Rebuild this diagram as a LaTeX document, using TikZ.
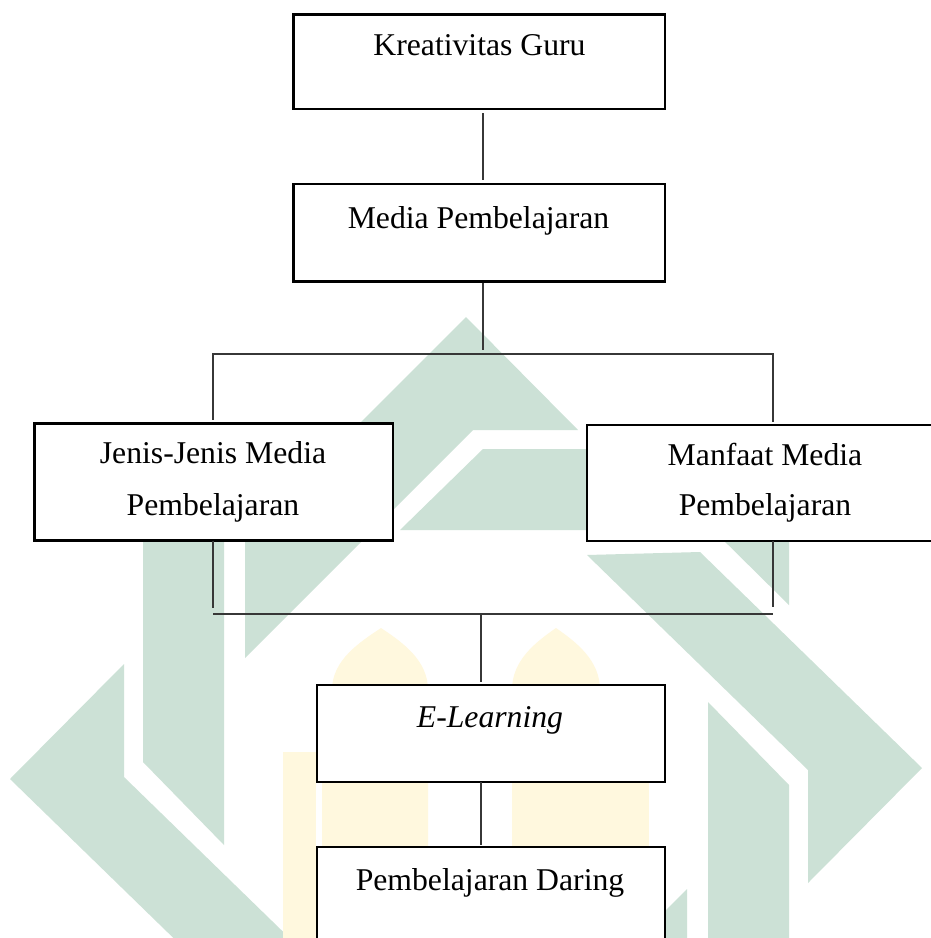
\documentclass[tikz,border=0pt]{standalone}
\usepackage{fontspec}
\setmainfont{Liberation Serif}
\definecolor{wmgreen}{RGB}{204,225,214}
\definecolor{wmyellow}{RGB}{255,248,222}
\definecolor{conncol}{RGB}{55,55,55}
\begin{document}
\begin{tikzpicture}[x=1pt,y=-1pt,
  box/.style={draw=black, line width=2.8pt, fill=white, rectangle, inner sep=0pt, outer sep=0pt},
  lbl/.style={anchor=base, inner sep=0pt, font=\fontsize{31.7}{38}\selectfont},
  conn/.style={draw=conncol, line width=1.3pt},
  wmg/.style={fill=wmgreen, draw=none},
  wmy/.style={fill=wmyellow, draw=none}]
\useasboundingbox (0,0) rectangle (931,938);
\clip (0,0) rectangle (931,938);
\fill[white] (0,0) rectangle (931,938);
% watermark (green)
\fill[wmg] (466,317) -- (578,430) -- (473,430) -- (245,658) -- (245,538) -- cycle;
\fill[wmg] (483,449) -- (597,449) -- (678,530) -- (400,530) -- cycle;
\fill[wmg] (143,430) -- (224,430) -- (224,845) -- (143,762) -- cycle;
\fill[wmg] (345,992) -- (232,995) -- (10,779) -- (124,664) -- (124,777) -- cycle;
\fill[wmg] (587,555) -- (700,552) -- (922,768) -- (808,883) -- (808,770) -- cycle;
\fill[wmg] (708,702) -- (789,785) -- (789,1140) -- (708,1140) -- cycle;
\fill[wmg] (708,430) -- (789,430) -- (789,605) -- (708,525) -- cycle;
\fill[wmg] (466,1230) -- (354,1117) -- (459,1117) -- (687,889) -- (687,1009) -- cycle;
% watermark (yellow)
\fill[wmy] (332,938) -- (332,690) .. controls (332,660) and (360,642) .. (381,628) .. controls (402,642) and (428,660) .. (428,690) -- (428,938) -- cycle;
\fill[wmy] (512,938) -- (512,690) .. controls (512,660) and (536,642) .. (556,628) .. controls (576,642) and (600,660) .. (600,690) -- (600,938) -- cycle;
\fill[wmy] (322,782) rectangle (428,847);
\fill[wmy] (512,782) rectangle (640,847);
\fill[wmy] (283,752) rectangle (316,938);
\fill[wmy] (616,752) rectangle (649,938);
% boxes
\node[box, minimum width=371.5pt, minimum height=94.5pt] (kg) at (479.25,61.75) {};
\node[box, minimum width=371.5pt, minimum height=97.5pt] (mp) at (479.25,232.75) {};
\node[box, minimum width=358.5pt, minimum height=117pt] (jb) at (213.75,482) {};
\node[box, minimum width=363pt, minimum height=116pt] (rb) at (768.5,483) {};
\node[box, minimum width=348pt, minimum height=97pt] (el) at (491,733.5) {};
\node[box, minimum width=348pt, minimum height=123pt] (pd) at (491,908.5) {};
% labels
\node[lbl] (t1) at (479.5,55) {Kreativitas Guru};
\node[lbl] (t2) at (478.5,228) {Media Pembelajaran};
\node[lbl] (t3a) at (213,463) {Jenis-Jenis Media};
\node[lbl] (t3b) at (213,515) {Pembelajaran};
\node[lbl] (t4a) at (765,465) {Manfaat Media};
\node[lbl] (t4b) at (765,515) {Pembelajaran};
\node[lbl] (t5) at (490,727) {\itshape E-Learning};
\node[lbl] (t6) at (490,890) {Pembelajaran Daring};
% connector helpers
\coordinate (xc) at (483,0);
\coordinate (xl) at (213,0);
\coordinate (xr) at (773,0);
\coordinate (xd) at (481,0);
\coordinate (bus1) at (483,354);
\coordinate (lend) at (213,608);
\coordinate (rend) at (773,607);
\coordinate (busL) at (213,614);
\coordinate (busR) at (773,614);
\coordinate (bus2) at (481,614);
% connectors
\draw[conn, shorten <=4pt, shorten >=4pt] (kg.south -| xc) -- (mp.north -| xc);
\draw[conn, shorten <=1pt, shorten >=4pt] (mp.south -| xc) -- (bus1);
\draw[conn, shorten <=4pt, shorten >=3pt] (jb.north -| xl) -- (xl |- bus1) -- (xr |- bus1) -- (rb.north -| xr);
\draw[conn] (jb.south -| xl) -- (lend);
\draw[conn] (rb.south -| xr) -- (rend);
\draw[conn] (busL) -- (busR);
\draw[conn, shorten >=3pt] (bus2) -- (el.north -| xd);
\draw[conn, shorten >=2pt] (el.south -| xd) -- (pd.north -| xd);
\end{tikzpicture}
\end{document}
